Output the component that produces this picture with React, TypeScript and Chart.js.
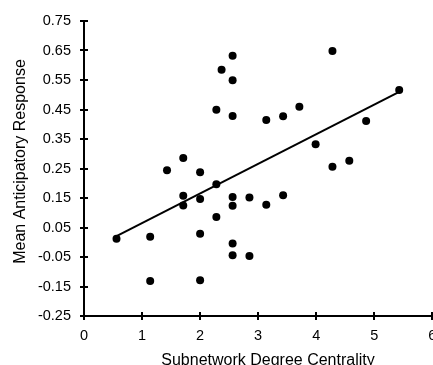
import React, { useEffect, useRef } from 'react';
import { Chart, registerables } from 'chart.js';

Chart.register(...registerables);

// Data
const degreeCentrality = [
  0.56, 1.14, 1.14, 1.43, 1.71, 1.71, 1.71, 2.0, 2.0, 2.0, 2.0, 2.28, 2.28, 2.28,
  2.37, 2.56, 2.56, 2.56, 2.56, 2.56, 2.56, 2.56, 2.85, 2.85, 3.14, 3.14, 3.43,
  3.43, 3.71, 3.99, 4.28, 4.28, 4.57, 4.86, 5.43,
];
const anticipatoryResponse = [
  0.012, 0.019, -0.131, 0.244, 0.286, 0.158, 0.125, 0.237, 0.147, 0.029, -0.129,
  0.449, 0.197, 0.086, 0.585, 0.632, 0.549, 0.428, 0.153, 0.124, -0.004, -0.044,
  0.152, -0.047, 0.414, 0.127, 0.427, 0.159, 0.459, 0.332, 0.648, 0.256, 0.276,
  0.411, 0.516,
];
const fitLineX = [0.56, 5.43];
const fitLineY = [0.021, 0.51];
const xTicks = [0, 1, 2, 3, 4, 5, 6];
const yTicks = [-0.25, -0.15, -0.05, 0.05, 0.15, 0.25, 0.35, 0.45, 0.55, 0.65, 0.75];
const xTitle = 'Subnetwork Degree Centrality';
const yTitle = 'Mean Anticipatory Response';

const FONT = "'Liberation Sans', Arial, Helvetica, sans-serif";
const INK = '#000000';

const crossTicksAndTitles = {
  id: 'crossTicksAndTitles',
  afterDraw(chart: any) {
    const ctx = chart.ctx;
    const xs = chart.scales.x;
    const ys = chart.scales.y;
    const area = chart.chartArea;
    ctx.save();
    ctx.strokeStyle = INK;
    ctx.lineWidth = 2;
    ctx.beginPath();
    xTicks.forEach((v) => {
      const px = Math.round(xs.getPixelForValue(v));
      ctx.moveTo(px, area.bottom - 4);
      ctx.lineTo(px, area.bottom);
    });
    yTicks.forEach((v) => {
      const py = Math.round(ys.getPixelForValue(v));
      ctx.moveTo(area.left, py);
      ctx.lineTo(area.left + 4, py);
    });
    ctx.stroke();

    ctx.fillStyle = INK;
    ctx.font = `16px ${FONT}`;
    ctx.textAlign = 'center';
    ctx.textBaseline = 'alphabetic';
    ctx.fillText(xTitle, 268, 365);

    ctx.translate(24.5, 161.5);
    ctx.rotate(-Math.PI / 2);
    ctx.fillText(yTitle, 0, 0);
    ctx.restore();
  },
};

export default function App() {
  const canvasRef = useRef<HTMLCanvasElement | null>(null);

  useEffect(() => {
    if (!canvasRef.current) return;
    const points = degreeCentrality.map((x, i) => ({ x, y: anticipatoryResponse[i] }));
    const fit = fitLineX.map((x, i) => ({ x, y: fitLineY[i] }));

    const chart = new Chart(canvasRef.current, {
      type: 'scatter',
      data: {
        datasets: [
          {
            label: 'Subjects',
            data: points,
            backgroundColor: INK,
            borderColor: INK,
            borderWidth: 0,
            pointRadius: 4,
            order: 1,
          },
          {
            label: 'Fit',
            data: fit,
            showLine: true,
            borderColor: INK,
            borderWidth: 2,
            pointRadius: 0,
            fill: false,
            order: 2,
          } as any,
        ],
      },
      options: {
        responsive: false,
        animation: false,
        layout: { padding: { left: 0, right: 27.7, top: 21, bottom: 0 } },
        plugins: {
          legend: { display: false },
          tooltip: { enabled: false },
          title: { display: false },
        },
        scales: {
          x: {
            type: 'linear',
            min: 0,
            max: 6,
            afterFit: (s: any) => {
              s.height = 49;
            },
            afterBuildTicks: (s: any) => {
              s.ticks = xTicks.map((v) => ({ value: v }));
            },
            grid: {
              drawOnChartArea: false,
              drawTicks: true,
              tickLength: 4,
              color: INK,
              lineWidth: 2,
            },
            border: { display: true, color: INK, width: 2 },
            ticks: {
              autoSkip: false,
              maxRotation: 0,
              padding: 7,
              color: INK,
              font: { family: FONT, size: 14.5 },
              callback: (v: any) => String(v),
            },
          },
          y: {
            type: 'linear',
            min: -0.25,
            max: 0.75,
            afterFit: (s: any) => {
              s.width = 84;
            },
            afterBuildTicks: (s: any) => {
              s.ticks = yTicks.map((v) => ({ value: v }));
            },
            grid: {
              drawOnChartArea: false,
              drawTicks: true,
              tickLength: 4,
              color: INK,
              lineWidth: 2,
            },
            border: { display: true, color: INK, width: 2 },
            ticks: {
              autoSkip: false,
              padding: 9,
              color: INK,
              font: { family: FONT, size: 14.5 },
              callback: (v: any) => Number(v).toFixed(2),
            },
          },
        },
      },
      plugins: [crossTicksAndTitles],
    });
    return () => chart.destroy();
  }, []);

  return (
    <div
      style={{
        position: 'fixed',
        left: 0,
        top: 0,
        width: 433,
        height: 365,
        overflow: 'hidden',
        background: '#ffffff',
      }}
    >
      <canvas ref={canvasRef} width={460} height={365} style={{ display: 'block' }} />
    </div>
  );
}
